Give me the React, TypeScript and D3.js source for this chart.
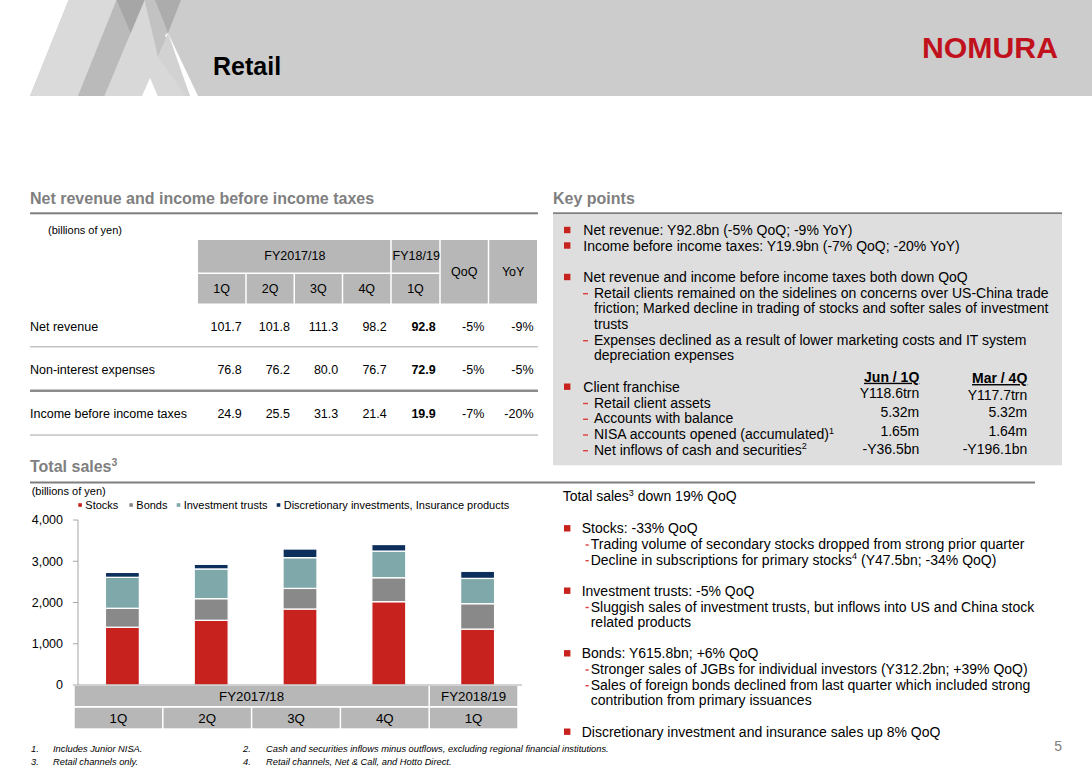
import React from "react";
import * as d3 from "d3";

// ---------- data ----------
const quarters = ["1Q", "2Q", "3Q", "4Q", "1Q"];
const fiscalGroups = ["FY2017/18", "FY2018/19"];
const fiscalSpans = [4, 1];
const stocks = [1400, 1568, 1842, 2020, 1355];
const bonds = [460, 525, 500, 581, 616];
const investmentTrusts = [750, 720, 745, 645, 613];
const discretionary = [120, 113, 210, 160, 173];
const seriesKeys = ["stocks", "bonds", "trusts", "disc"];
const seriesNames = ["Stocks", "Bonds", "Investment trusts", "Discretionary investments, Insurance products"];
const seriesColors = ["#c8221f", "#898989", "#7fa8ab", "#0c2f5c"];
const yTicks = [0, 1000, 2000, 3000, 4000];

const tableFyHeaders = ["FY2017/18", "FY18/19"];
const tableQuarters = ["1Q", "2Q", "3Q", "4Q", "1Q"];
const tableRowLabels = ["Net revenue", "Non-interest expenses", "Income before income taxes"];
const netRevenue = [101.7, 101.8, 111.3, 98.2, 92.8];
const nonInterestExpenses = [76.8, 76.2, 80.0, 76.7, 72.9];
const incomeBeforeTaxes = [24.9, 25.5, 31.3, 21.4, 19.9];
const qoqChanges = ["-5%", "-5%", "-7%"];
const yoyChanges = ["-9%", "-5%", "-20%"];

const F = "'Liberation Sans', Arial, Helvetica, sans-serif";

type Line = { t: "b" | "s" | "c"; text: string; sup?: string; after?: string; y: number };
const keyPointLines: Line[] = [
  { t: "b", text: "Net revenue: Y92.8bn (-5% QoQ; -9% YoY)", y: 230 },
  { t: "b", text: "Income before income taxes: Y19.9bn (-7% QoQ; -20% YoY)", y: 245.5 },
  { t: "b", text: "Net revenue and income before income taxes both down QoQ", y: 277 },
  { t: "s", text: "Retail clients remained on the sidelines on concerns over US-China trade", y: 292.7 },
  { t: "c", text: "friction; Marked decline in trading of stocks and softer sales of investment", y: 308.3 },
  { t: "c", text: "trusts", y: 324 },
  { t: "s", text: "Expenses declined as a result of lower marketing costs and IT system", y: 339.7 },
  { t: "c", text: "depreciation expenses", y: 355.3 },
  { t: "b", text: "Client franchise", y: 386.7 },
  { t: "s", text: "Retail client assets", y: 402.5 },
  { t: "s", text: "Accounts with balance", y: 418.3 },
  { t: "s", text: "NISA accounts opened (accumulated)", sup: "1", y: 434 },
  { t: "s", text: "Net inflows of cash and securities", sup: "2", y: 449.7 },
];
const franchiseHeaders = ["Jun / 1Q", "Mar / 4Q"];
const franchiseJun = ["Y118.6trn", "5.32m", "1.65m", "-Y36.5bn"];
const franchiseMar = ["Y117.7trn", "5.32m", "1.64m", "-Y196.1bn"];

const salesLines: Line[] = [
  { t: "b", text: "Stocks: -33% QoQ", y: 528.3 },
  { t: "s", text: "Trading volume of secondary stocks dropped from strong prior quarter", y: 544 },
  { t: "s", text: "Decline in subscriptions for primary stocks", sup: "4", after: " (Y47.5bn; -34% QoQ)", y: 559.7 },
  { t: "b", text: "Investment trusts: -5% QoQ", y: 590.7 },
  { t: "s", text: "Sluggish sales of investment trusts, but inflows into US and China stock", y: 606.5 },
  { t: "c", text: "related products", y: 622 },
  { t: "b", text: "Bonds: Y615.8bn; +6% QoQ", y: 653.3 },
  { t: "s", text: "Stronger sales of JGBs for individual investors (Y312.2bn; +39% QoQ)", y: 669 },
  { t: "s", text: "Sales of foreign bonds declined from last quarter which included strong", y: 684.7 },
  { t: "c", text: "contribution from primary issuances", y: 700.3 },
  { t: "b", text: "Discretionary investment and insurance sales up 8% QoQ", y: 731.7 },
];

const footnoteNums = ["1.", "2.", "3.", "4."];
const footnoteTexts = [
  "Includes Junior NISA.",
  "Cash and securities inflows minus outflows, excluding regional financial institutions.",
  "Retail channels only.",
  "Retail channels, Net & Call, and Hotto Direct.",
];

// ---------- helpers ----------
function BulletText({
  lines,
  bx,
  tx,
  sdx,
  sdw,
  stx,
}: {
  lines: Line[];
  bx: number;
  tx: number;
  sdx: number;
  sdw: number;
  stx: number;
}) {
  return (
    <g fontFamily={F} fontSize={14} fill="#000">
      {lines.map((l, i) => (
        <g key={i}>
          {l.t === "b" && <rect x={bx} y={l.y - 3.2} width={6.4} height={6.4} fill="#c8221f" />}
          {l.t === "s" && <rect x={sdx} y={l.y + 0.3} width={sdw} height={1.4} fill="#d9413c" />}
          <text x={l.t === "b" ? tx : stx} y={l.y} dy="0.36em">
            {l.text}
            {l.sup && (
              <tspan fontSize={9} dy={-5.5}>
                {l.sup}
              </tspan>
            )}
            {l.after && <tspan dy={5.5}>{l.after}</tspan>}
          </text>
        </g>
      ))}
    </g>
  );
}

export default function App() {
  const x = d3
    .scaleBand<number>()
    .domain(d3.range(quarters.length))
    .range([78, 522])
    .paddingInner(0.617)
    .paddingOuter(0.3085);
  const y = d3.scaleLinear().domain([0, 4000]).range([685, 520]);
  const rows = quarters.map((_, i) => ({
    stocks: stocks[i],
    bonds: bonds[i],
    trusts: investmentTrusts[i],
    disc: discretionary[i],
  }));
  const stacked = d3.stack<any>().keys(seriesKeys)(rows);
  const step = x.step();
  const [r0] = x.range();
  const edge = (i: number) => r0 + i * step - 4;

  const colEdges = [198, 246.75, 295, 343.25, 391.75, 440.75, 489.25, 538.5];
  const rowY = [326.5, 370, 413.5];
  const tableValues = [netRevenue, nonInterestExpenses, incomeBeforeTaxes];

  const legendX = [78.3, 129.3, 176.7, 276.7];

  return (
    <svg
      width={1092}
      height={772}
      viewBox="0 0 1092 772"
      style={{ position: "absolute", left: 0, top: 0, background: "#fff" }}
      fontFamily={F}
    >
      <rect x={0} y={0} width={1092} height={772} fill="#fff" />
      {/* header */}
      <rect x={0} y={0} width={1092} height={96} fill="#cccccc" />
      <polygon points="0,0 68.6,0 30,96 0,96" fill="#ffffff" />
      <polygon points="68.6,0 116.6,0 78,96 30,96" fill="#dadada" />
      <polygon points="116.6,0 144.5,0 104.5,96 78,96" fill="#bababa" />
      <polygon points="130.7,33 144.5,0 185.7,96 104.5,96" fill="#d8d8d8" />
      <polygon points="144.5,0 155,0 168,33 158,57" fill="#c2c2c2" />
      <polygon points="116.6,0 144.5,0 130.7,33" fill="#a6a6a6" />
      <polygon points="155,0 181,0 168,33" fill="#acacac" />
      <polygon points="150,78 142,96 157.8,96" fill="#ffffff" />
      <polygon points="165,35 168,33 198,96 190,96" fill="#ffffff" />
      <polygon points="158,57 168,33 190,96 185.7,96" fill="#d2d2d2" />
      <text x={213} y={75} fontSize={25} fontWeight="bold" fill="#000">
        Retail
      </text>
      <text
        x={922}
        y={58}
        fontSize={29}
        fontWeight="bold"
        fill="#c0111d"
        textLength={136}
        lengthAdjust="spacingAndGlyphs"
      >
        NOMURA
      </text>

      {/* section titles */}
      <text x={30} y={204} fontSize={16} fontWeight="bold" fill="#7f7f7f">
        Net revenue and income before income taxes
      </text>
      <rect x={30} y={212.3} width={508} height={2} fill="#7f7f7f" />
      <text x={553} y={204} fontSize={16} fontWeight="bold" fill="#7f7f7f">
        Key points
      </text>
      <rect x={553} y={212.3} width={509} height={2} fill="#7f7f7f" />

      {/* table */}
      <text x={48} y={230} dy="0.35em" fontSize={11} fill="#000">
        (billions of yen)
      </text>
      <g fontSize={12.5} fill="#000" textAnchor="middle">
        <rect x={colEdges[0]} y={240} width={colEdges[4] - colEdges[0] - 1.5} height={32.5} fill="#b7b7b7" />
        <text x={(colEdges[0] + colEdges[4]) / 2} y={256} dy="0.35em">
          {tableFyHeaders[0]}
        </text>
        <rect x={colEdges[4]} y={240} width={colEdges[5] - colEdges[4] - 1.5} height={32.5} fill="#b7b7b7" />
        <text x={(colEdges[4] + colEdges[5]) / 2} y={256} dy="0.35em">
          {tableFyHeaders[1]}
        </text>
        {tableQuarters.map((q, i) => (
          <g key={i}>
            <rect x={colEdges[i]} y={274} width={colEdges[i + 1] - colEdges[i] - 1.5} height={29.5} fill="#b7b7b7" />
            <text x={(colEdges[i] + colEdges[i + 1] - 1.5) / 2} y={289} dy="0.35em">
              {q}
            </text>
          </g>
        ))}
        {["QoQ", "YoY"].map((h, j) => (
          <g key={h}>
            <rect
              x={colEdges[5 + j]}
              y={240}
              width={colEdges[6 + j] - colEdges[5 + j] - 1.5}
              height={63.5}
              fill="#b7b7b7"
            />
            <text x={(colEdges[5 + j] + colEdges[6 + j] - 1.5) / 2} y={272} dy="0.35em">
              {h}
            </text>
          </g>
        ))}
      </g>
      <g fontSize={12.5} fill="#000">
        {tableRowLabels.map((lab, r) => (
          <g key={lab}>
            <text x={30} y={rowY[r]} dy="0.35em">
              {lab}
            </text>
            {tableValues[r].map((v, c) => (
              <text
                key={c}
                x={colEdges[c + 1] - 5}
                y={rowY[r]}
                dy="0.35em"
                textAnchor="end"
                fontWeight={c === 4 ? "bold" : "normal"}
              >
                {d3.format(".1f")(v)}
              </text>
            ))}
            <text x={colEdges[6] - 5} y={rowY[r]} dy="0.35em" textAnchor="end">
              {qoqChanges[r]}
            </text>
            <text x={colEdges[7] - 5} y={rowY[r]} dy="0.35em" textAnchor="end">
              {yoyChanges[r]}
            </text>
          </g>
        ))}
      </g>
      <rect x={30} y={346} width={508} height={1.5} fill="#c4c4c4" />
      <rect x={30} y={389.5} width={508} height={2.5} fill="#8c8c8c" />
      <rect x={30} y={434.3} width={508} height={1.5} fill="#c4c4c4" />

      {/* key points box */}
      <rect x={553} y={214.3} width={509} height={251} fill="#dedede" />
      <BulletText lines={keyPointLines} bx={564} tx={583.3} sdx={583} sdw={5} stx={594} />
      <g fontSize={14} fill="#000" textAnchor="end">
        {franchiseHeaders.map((h, j) => (
          <text
            key={h}
            x={j === 0 ? 919.3 : 1027.3}
            y={j === 0 ? 376.7 : 378}
            dy="0.36em"
            fontWeight="bold"
            textDecoration="underline"
          >
            {h}
          </text>
        ))}
        {franchiseJun.map((v, i) => (
          <text key={"j" + i} x={919.3} y={[393.3, 412.3, 430.7, 449.3][i]} dy="0.36em">
            {v}
          </text>
        ))}
        {franchiseMar.map((v, i) => (
          <text key={"m" + i} x={1027.3} y={[394.5, 412.3, 431, 449.3][i]} dy="0.36em">
            {v}
          </text>
        ))}
      </g>

      {/* total sales section */}
      <text x={30} y={472} fontSize={16} fontWeight="bold" fill="#7f7f7f">
        Total sales
        <tspan fontSize={10.5} dy={-6}>
          3
        </tspan>
      </text>
      <rect x={30} y={481.5} width={1005} height={2} fill="#7f7f7f" />
      <text x={31.7} y={490.7} dy="0.35em" fontSize={11} fill="#000">
        (billions of yen)
      </text>

      {/* legend */}
      <g fontSize={11} fill="#000">
        {seriesNames.map((n, i) => (
          <g key={n}>
            <rect x={legendX[i]} y={503.2} width={3.6} height={3.6} fill={seriesColors[i]} />
            <text x={legendX[i] + 7} y={505} dy="0.35em">
              {n}
            </text>
          </g>
        ))}
      </g>

      {/* axes */}
      <g fontSize={12.5} fill="#000">
        {yTicks.map((t) => (
          <g key={t}>
            <line x1={73} x2={78} y1={y(t)} y2={y(t)} stroke="#a6a6a6" strokeWidth={1} />
            <text x={63} y={y(t)} dy="0.35em" textAnchor="end">
              {d3.format(",")(t)}
            </text>
          </g>
        ))}
      </g>
      <line x1={78} x2={78} y1={y(4000)} y2={y(0)} stroke="#a6a6a6" strokeWidth={1} />

      {/* bars */}
      {stacked.map((s, si) => (
        <g key={seriesKeys[si]} fill={seriesColors[si]}>
          {s.map((d, i) => (
            <rect
              key={i}
              x={x(i)!}
              y={y(d[1])}
              width={x.bandwidth()}
              height={Math.max(0, y(d[0]) - y(d[1]))}
              stroke="#ffffff"
              strokeWidth={1.3}
            />
          ))}
        </g>
      ))}
      <line x1={78} x2={522} y1={y(0)} y2={y(0)} stroke="#a6a6a6" strokeWidth={1.2} />

      {/* category table */}
      <g fontSize={13.3} fill="#000" textAnchor="middle">
        {fiscalGroups.map((g, gi) => {
          const start = d3.sum(fiscalSpans.slice(0, gi));
          const x0 = edge(start);
          const x1 = edge(start + fiscalSpans[gi]);
          return (
            <g key={g}>
              <rect x={x0 + 0.75} y={686} width={x1 - x0 - 1.5} height={20} fill="#b7b7b7" />
              <text x={(x0 + x1) / 2} y={696.3} dy="0.35em">
                {g}
              </text>
            </g>
          );
        })}
        {quarters.map((q, i) => (
          <g key={i}>
            <rect x={edge(i) + 0.75} y={707.8} width={step - 1.5} height={20.5} fill="#b7b7b7" />
            <text x={edge(i) + step / 2} y={718.3} dy="0.35em">
              {q}
            </text>
          </g>
        ))}
      </g>

      {/* right-bottom commentary */}
      <text x={562.7} y={496} dy="0.36em" fontSize={14} fill="#000">
        Total sales
        <tspan fontSize={9} dy={-5.5}>
          3
        </tspan>
        <tspan dy={5.5}> down 19% QoQ</tspan>
      </text>
      <BulletText lines={salesLines} bx={564} tx={581.7} sdx={585.5} sdw={3.2} stx={590.7} />

      {/* footnotes */}
      <g fontSize={9.3} fontStyle="italic" fill="#000">
        {footnoteNums.map((n, i) => (
          <g key={n}>
            <text x={i % 2 === 0 ? 31 : 243} y={i < 2 ? 749 : 762} dy="0.35em">
              {n}
            </text>
            <text x={i % 2 === 0 ? 53 : 266} y={i < 2 ? 749 : 762} dy="0.35em">
              {footnoteTexts[i]}
            </text>
          </g>
        ))}
      </g>
      <text x={1062} y={746} dy="0.35em" fontSize={14} fill="#808080" textAnchor="end">
        5
      </text>
    </svg>
  );
}
